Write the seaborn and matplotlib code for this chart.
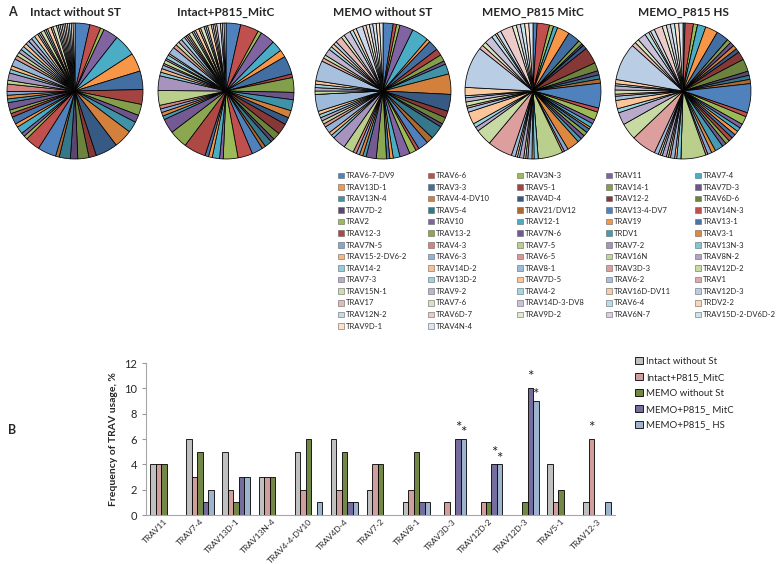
import matplotlib
matplotlib.use("Agg")
import matplotlib.pyplot as plt
from matplotlib.patches import Patch
from matplotlib.colors import to_rgb
import numpy as np
import pandas as pd
import seaborn as sns

# TRAV segments, legend order (row by row, 5 per row)
segments = [
    "TRAV6-7-DV9", "TRAV6-6", "TRAV3N-3", "TRAV11", "TRAV7-4",
    "TRAV13D-1", "TRAV3-3", "TRAV5-1", "TRAV14-1", "TRAV7D-3",
    "TRAV13N-4", "TRAV4-4-DV10", "TRAV4D-4", "TRAV12-2", "TRAV6D-6",
    "TRAV7D-2", "TRAV5-4", "TRAV21/DV12", "TRAV13-4-DV7", "TRAV14N-3",
    "TRAV2", "TRAV10", "TRAV12-1", "TRAV19", "TRAV13-1",
    "TRAV12-3", "TRAV13-2", "TRAV7N-6", "TRDV1", "TRAV3-1",
    "TRAV7N-5", "TRAV4-3", "TRAV7-5", "TRAV7-2", "TRAV13N-3",
    "TRAV15-2-DV6-2", "TRAV6-3", "TRAV6-5", "TRAV16N", "TRAV8N-2",
    "TRAV14-2", "TRAV14D-2", "TRAV8-1", "TRAV3D-3", "TRAV12D-2",
    "TRAV7-3", "TRAV13D-2", "TRAV7D-5", "TRAV6-2", "TRAV1",
    "TRAV15N-1", "TRAV9-2", "TRAV4-2", "TRAV16D-DV11", "TRAV12D-3",
    "TRAV17", "TRAV7-6", "TRAV14D-3-DV8", "TRAV6-4", "TRDV2-2",
    "TRAV12N-2", "TRAV6D-7", "TRAV9D-2", "TRAV6N-7", "TRAV15D-2-DV6D-2",
    "TRAV9D-1", "TRAV4N-4",
]

pie_titles = ["Intact without ST", "Intact+P815_MitC", "MEMO without ST",
              "MEMO_P815 MitC", "MEMO_P815 HS"]

# estimated % per segment (same order as segments)
pie_intact = [4, 3, 1, 4, 6, 5, 5, 4, 3, 2, 3, 5, 6, 2, 3, 2, 3, 1, 5, 4,
              1, 1, 2, 1, 2, 1, 1, 2, 1, 1, 1, 2, 1, 2, 1, 1, 2, 1, 1, 1,
              1, 1, 1, 0, 0, 1, 1, 1, 0.5, 0.5, 1, 0.5, 0.5, 1, 0, 0.5, 1, 0.5, 0.5, 0.5,
              0.5, 0.5, 0.5, 0.5, 0.5, 0.5, 0.5]
pie_intact_p815 = [4, 5, 1, 4, 3, 2, 5, 1, 4, 2, 3, 2, 2, 3, 2, 1, 2, 1, 3, 4,
                   4, 1, 2, 1, 1, 6, 5, 4, 1, 1, 1, 1, 4, 4, 1, 1, 1, 0.5, 1, 0.5,
                   1, 0.5, 2, 1, 1, 1, 1, 0.5, 0.5, 0.5, 1, 0.5, 0.5, 1, 0, 0.5, 1, 0.5, 0.5, 1,
                   0.5, 0.5, 0.5, 1, 0.5, 0.5, 0.5]
pie_memo = [3, 1, 1, 4, 5, 1, 3, 2, 2, 1, 3, 6, 5, 2, 2, 1, 4, 2, 3, 1,
            2, 3, 2, 1, 1, 0, 3, 3, 1, 1, 1, 1, 3, 4, 1, 1, 2, 1, 1, 1,
            1, 1, 5, 0, 1, 1, 1, 1, 6, 1, 1, 2, 1, 1, 1, 2, 1, 2, 1, 1,
            2, 1, 1, 1, 1, 1, 1]
pie_memo_mitc = [1, 3, 1, 0, 1, 3, 3, 0, 1, 0.5, 0, 0, 1, 4, 2, 1, 1, 1, 6, 1,
                 2, 1, 1, 0.5, 1, 0, 1, 1, 1, 3, 1, 0.5, 6, 0, 1, 0.5, 1, 0.5, 0.5, 1,
                 0.5, 0.5, 1, 6, 4, 1, 1, 3, 1, 0.5, 1, 1, 0.5, 2, 10, 1, 1, 2, 1, 0.5,
                 1, 3, 1, 1, 1, 1, 1]
pie_memo_hs = [0.5, 2, 1, 0, 2, 3, 3, 0, 1, 1, 0, 1, 1, 2, 3, 1, 1, 1, 7, 1,
               2, 1, 1, 1, 1, 1, 1, 1, 2, 1, 1, 0.5, 6, 0, 1, 0.5, 1, 0.5, 0.5, 1,
               0.5, 0.5, 1, 6, 4, 3, 1, 2, 1, 0.5, 1, 1, 0.5, 1, 9, 1, 1, 2, 1, 0.5,
               1, 2, 1, 1, 1, 1, 1]

# panel B
bar_genes = ["TRAV11", "TRAV7-4", "TRAV13D-1", "TRAV13N-4", "TRAV4-4-DV10",
             "TRAV4D-4", "TRAV7-2", "TRAV8-1", "TRAV3D-3", "TRAV12D-2",
             "TRAV12D-3", "TRAV5-1", "TRAV12-3"]
bar_series = ["Intact without St", "Intact+P815_MitC", "MEMO without St",
              "MEMO+P815_ MitC", "MEMO+P815_ HS"]
bar_intact = [4, 6, 5, 3, 5, 6, 2, 1, 0, 0, 0, 4, 1]
bar_intact_p815 = [4, 3, 2, 3, 2, 2, 4, 2, 1, 1, 0, 1, 6]
bar_memo = [4, 5, 1, 3, 6, 5, 4, 5, 0, 1, 1, 2, 0]
bar_memo_mitc = [0, 1, 3, 0, 0, 1, 0, 1, 6, 4, 10, 0, 0]
bar_memo_hs = [0, 2, 3, 0, 1, 1, 0, 1, 6, 4, 9, 0, 1]
stars = [("TRAV3D-3", "MEMO+P815_ MitC"), ("TRAV3D-3", "MEMO+P815_ HS"),
         ("TRAV12D-2", "MEMO+P815_ MitC"), ("TRAV12D-2", "MEMO+P815_ HS"),
         ("TRAV12D-3", "MEMO+P815_ MitC"), ("TRAV12D-3", "MEMO+P815_ HS"),
         ("TRAV12-3", "Intact+P815_MitC")]

sns.set_style("white")
plt.rcParams['font.family'] = ['Lato', 'DejaVu Sans']

# excel-ish palette, cycling hues and getting paler further down the list
excel = ["#4F81BD", "#C0504D", "#9BBB59", "#8064A2", "#4BACC6", "#F79646"]
tier_shift = [0, -0.15, -0.3, 0, -0.1, 0.3, 0.4, 0.45, 0.5, 0.6, 0.7, 0.8]

def shade(c, t):
    c = np.array(to_rgb(c))
    return tuple(c * (1 + t)) if t < 0 else tuple(c + (1 - c) * t)

seg_colors = [shade(excel[i % 6], tier_shift[i // 6]) for i in range(len(segments))]

W, H = 776, 564
fig = plt.figure(figsize=(W / 100, H / 100), dpi=100)

pies = [pie_intact, pie_intact_p815, pie_memo, pie_memo_mitc, pie_memo_hs]
centers = [75, 226, 383, 533, 683]
r = 68
for vals, title, cx in zip(pies, pie_titles, centers):
    ax = fig.add_axes([(cx - r - 1) / W, 1 - (91 + r + 1) / H, (2 * r + 2) / W, (2 * r + 2) / H])
    ax.pie(vals, colors=seg_colors, startangle=90, counterclock=False,
           wedgeprops=dict(edgecolor='black', linewidth=0.55))
    ax.set_aspect('auto')
    ax.set_xlim(-1.015, 1.015)
    ax.set_ylim(-1.015, 1.015)
    fig.text(cx / W, 1 - 12 / H, title, ha='center', va='center',
             fontsize=8.5, fontweight='bold')

fig.text(8 / W, 1 - 12 / H, "A", fontsize=9, fontweight='bold', va='center')
fig.text(8 / W, 1 - 430 / H, "B", fontsize=9, fontweight='bold', va='center')

# pie legend, 5 equal columns read row by row
ncol = 5
col_x = [338, 428, 517, 606, 695]
for c in range(ncol):
    idx = list(range(c, len(segments), ncol))
    fig.legend([Patch(facecolor=seg_colors[i], edgecolor='0.4', linewidth=0.4) for i in idx],
               [segments[i] for i in idx], loc='upper left',
               bbox_to_anchor=(col_x[c] / W, 1 - 172 / H), frameon=False,
               fontsize=5.5, handlelength=0.75, handleheight=0.75,
               handletextpad=0.3, labelspacing=0.6,
               borderpad=0, borderaxespad=0)

# panel B bars
df = pd.DataFrame({
    'gene': bar_genes * 5,
    'series': [s for s in bar_series for _ in bar_genes],
    'freq': bar_intact + bar_intact_p815 + bar_memo + bar_memo_mitc + bar_memo_hs,
})
bar_colors = ["#C0C0C0", "#D99694", "#77933C", "#7164A6", "#95B3D7"]
axb = fig.add_axes([146 / W, 1 - 515 / H, (615 - 146) / W, (515 - 363) / H])
sns.barplot(data=df, x='gene', y='freq', hue='series', palette=bar_colors,
            width=0.76, edgecolor='black', linewidth=0.6, ax=axb)
axb.set_ylim(0, 12)
axb.set_xlim(-0.5, len(bar_genes) - 0.5)
axb.set_yticks(range(0, 13, 2))
axb.tick_params(axis='y', labelsize=8, length=3, color='0.6', left=True)
axb.tick_params(axis='x', labelsize=6, length=0, pad=2)
plt.setp(axb.get_xticklabels(), rotation=45, ha='right', rotation_mode='anchor')
axb.set_xlabel("")
axb.set_ylabel("Frequency of TRAV usage, %", fontsize=7.5, fontweight='bold')
for side in ['top', 'right']:
    axb.spines[side].set_visible(False)
for side in ['left', 'bottom']:
    axb.spines[side].set_color('0.65')
    axb.spines[side].set_linewidth(0.8)

for gene, series in stars:
    bar = axb.containers[bar_series.index(series)][bar_genes.index(gene)]
    lift = 0.45 if series == "MEMO+P815_ HS" else 0.9
    axb.text(bar.get_x() + bar.get_width() / 2, bar.get_height() + lift, "*",
             ha='center', va='center', fontsize=11)

axb.legend(loc='upper left', bbox_to_anchor=(635 / W, 1 - 357 / H),
           bbox_transform=fig.transFigure, frameon=False, fontsize=6.9,
           handlelength=0.8, handleheight=0.8, handletextpad=0.4,
           labelspacing=0.72, borderpad=0, borderaxespad=0)

fig.savefig("out.png", dpi=100)
